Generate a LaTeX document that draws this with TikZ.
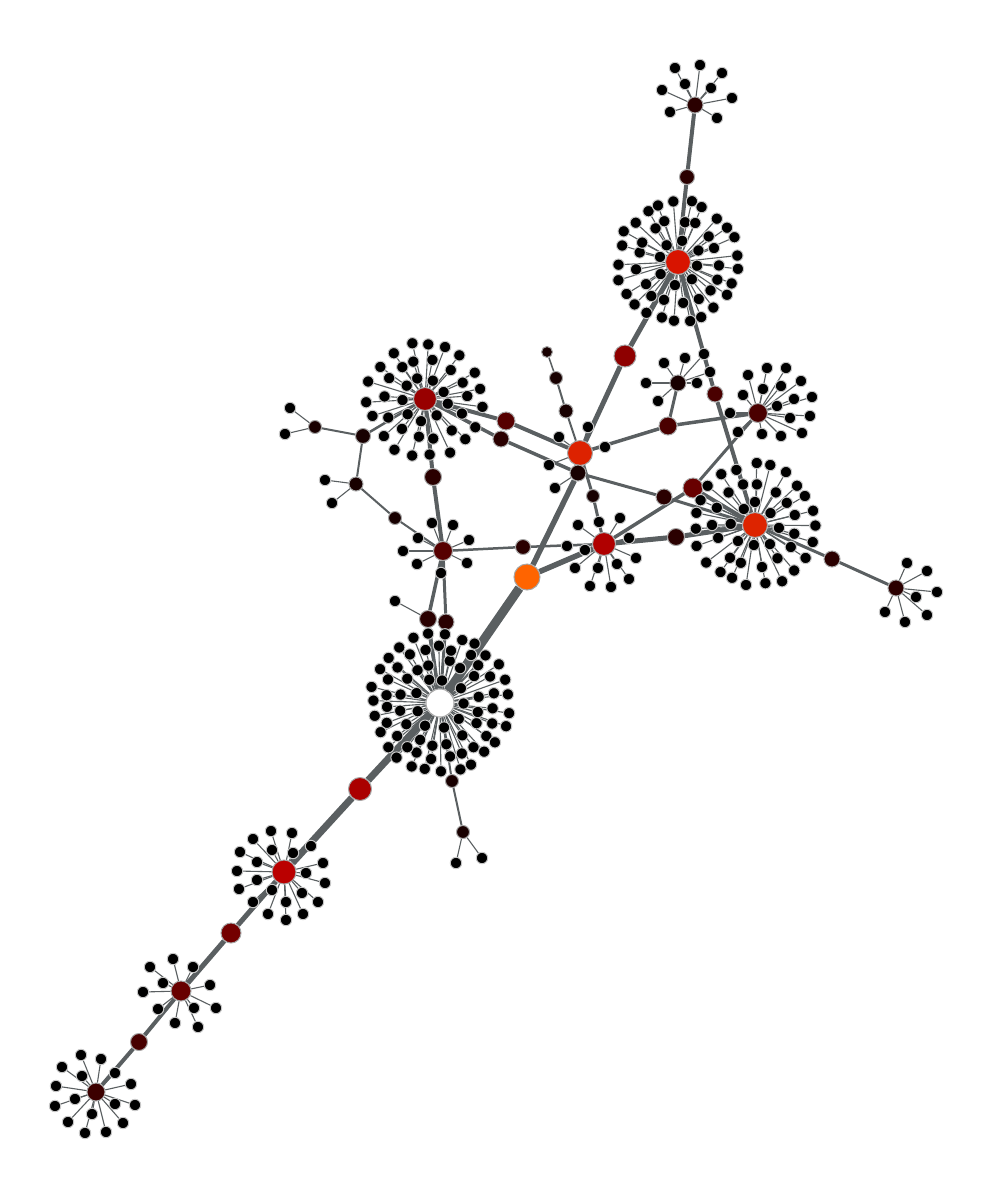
\documentclass[tikz,border=0pt]{standalone}
\usetikzlibrary{calc}
\pgfdeclarelayer{edges}
\pgfsetlayers{edges,main}
\definecolor{edgec}{HTML}{5A5F61}
\definecolor{cO}{HTML}{FF6400}
\definecolor{cC}{HTML}{DD2200}
\definecolor{cT}{HTML}{D81400}
\definecolor{cE}{HTML}{DD2400}
\definecolor{cL}{HTML}{980000}
\definecolor{cR}{HTML}{8E0000}
\definecolor{cM}{HTML}{B00000}
\definecolor{cA}{HTML}{AA0000}
\definecolor{cB}{HTML}{BA0000}
\definecolor{cD}{HTML}{740000}
\definecolor{cF}{HTML}{680000}
\definecolor{cG}{HTML}{480000}
\definecolor{cH}{HTML}{3C0000}
\definecolor{cQ}{HTML}{560000}
\definecolor{dA}{HTML}{4A0000}
\definecolor{dB}{HTML}{2A0000}
\definecolor{dC}{HTML}{180000}
\newcommand{\leafring}[5]{%
  \foreach \i in {1,...,#3}{%
    \pgfmathsetmacro{\ang}{#4+\i*360/#3+rand*#5}%
    \pgfmathsetmacro{\rr}{#2+rand*2.5}%
    \node[leaf] (#1-r#2-\i) at ($(#1)+(\ang:\rr)$) {};
  }%
  \begin{pgfonlayer}{edges}%
  \foreach \i in {1,...,#3}{\draw[leafedge] (#1) -- (#1-r#2-\i);}%
  \end{pgfonlayer}}
\newcommand{\leafset}[2]{%
  \foreach \p [count=\k] in {#2}{%
    \node[leaf] (#1-l\k) at \p {};
    \xdef\leafcount{\k}%
  }%
  \begin{pgfonlayer}{edges}%
  \foreach \i in {1,...,\leafcount}{\draw[leafedge] (#1) -- (#1-l\i);}%
  \end{pgfonlayer}}
\begin{document}
\begin{tikzpicture}[x=0.5pt,y=-0.5pt,
  leaf/.style={circle,fill=black,draw=black!22,line width=0.5pt,minimum size=5.7pt,inner sep=0pt},
  hub/.style 2 args={circle,fill=#1,draw=black!35,line width=0.5pt,minimum size=#2*0.5pt,inner sep=0pt},
  lw/.style={draw=edgec,line width=#1*0.5pt},
  leafedge/.style={draw=edgec,line width=0.55pt}]
\useasboundingbox (0,0) rectangle (993,1200);
\pgfmathsetseed{12}
% main nodes
\node[hub={white}{28}] (W) at (440,703) {};
\node[hub={cO}{26}] (O) at (527,577) {};
\node[hub={cC}{25}] (C) at (580,453) {};
\node[hub={cT}{25}] (T) at (678,262) {};
\node[hub={dB}{16}] (TT) at (695,105) {};
\node[hub={dB}{15}] (TM) at (687,177) {};
\node[hub={cR}{22}] (R1) at (625,356) {};
\node[hub={cL}{23}] (L) at (425,399) {};
\node[hub={cE}{25}] (E) at (755,525) {};
\node[hub={cM}{23}] (M) at (604,544) {};
\node[hub={cQ}{19}] (Q) at (443,551) {};
\node[hub={dA}{19}] (K) at (758,413) {};
\node[hub={dC}{16}] (P) at (678,383) {};
\node[hub={dA}{18}] (Pb) at (668,426) {};
\node[hub={dA}{16}] (Rm) at (715,394) {};
\node[hub={cQ}{18}] (A1) at (506,421) {};
\node[hub={dB}{16}] (A2) at (501,439) {};
\node[hub={dC}{16}] (N577) at (578,473) {};
\node[hub={dB}{16}] (N664) at (664,497) {};
\node[hub={cF}{20}] (N693) at (693,488) {};
\node[hub={dB}{17}] (N676) at (676,537) {};
\node[hub={dC}{13}] (N593) at (593,496) {};
\node[hub={dB}{15}] (N523) at (523,547) {};
\node[hub={dB}{16}] (N832) at (832,559) {};
\node[hub={dB}{16}] (H) at (896,588) {};
\node[hub={dB}{17}] (X433) at (433,477) {};
\node[hub={dB}{17}] (Q1) at (428,619) {};
\node[hub={dB}{16}] (Q2) at (446,622) {};
\node[hub={dC}{13}] (N395) at (395,518) {};
\node[hub={dC}{14}] (N356) at (356,484) {};
\node[hub={dC}{15}] (N363) at (363,436) {};
\node[hub={dC}{13}] (N315) at (315,427) {};
\node[hub={dC}{14}] (C1) at (566,411) {};
\node[hub={dC}{13}] (C2) at (556,378) {};
\node[hub={dC}{11}] (C3) at (547,352) {};
\node[hub={cA}{23}] (N360) at (360,789) {};
\node[hub={cB}{24}] (N284) at (284,872) {};
\node[hub={cD}{20}] (N231) at (231,933) {};
\node[hub={cF}{20}] (N181) at (181,991) {};
\node[hub={cG}{17}] (N139) at (139,1042) {};
\node[hub={cH}{18}] (N96) at (96,1092) {};
\node[hub={dC}{13}] (N452) at (452,781) {};
\node[hub={dC}{13}] (N463) at (463,832) {};
% main edges
\begin{pgfonlayer}{edges}
\draw[lw=9] (W) -- (O);
\draw[lw=5.5] (O) -- (N577);
\draw[lw=4] (N577) -- (C);
\draw[lw=5] (C) -- (R1);
\draw[lw=5] (R1) -- (T);
\draw[lw=4] (T) -- (TM);
\draw[lw=4] (TM) -- (TT);
\draw[lw=4] (T) -- (Rm);
\draw[lw=4] (Rm) -- (E);
\draw[lw=4] (L) -- (A1);
\draw[lw=4] (A1) -- (C);
\draw[lw=3.5] (L) -- (A2);
\draw[lw=3.5] (A2) -- (N577);
\draw[lw=3] (N577) -- (N664);
\draw[lw=3] (N664) -- (E);
\draw[lw=3.5] (M) -- (N693);
\draw[lw=4] (N693) -- (E);
\draw[lw=3] (N693) -- (K);
\draw[lw=5] (M) -- (N676);
\draw[lw=5] (N676) -- (E);
\draw[lw=3] (C) -- (N593);
\draw[lw=3] (N593) -- (M);
\draw[lw=5.5] (O) -- (M);
\draw[lw=3.5] (C) -- (Pb);
\draw[lw=3.5] (Pb) -- (K);
\draw[lw=3] (P) -- (Pb);
\draw[lw=3] (E) -- (N832);
\draw[lw=3] (N832) -- (H);
\draw[lw=4] (L) -- (X433);
\draw[lw=4] (X433) -- (Q);
\draw[lw=3.5] (Q) -- (Q1);
\draw[lw=3] (Q) -- (Q2);
\draw[lw=3.5] (Q1) -- (W);
\draw[lw=3] (Q2) -- (W);
\draw[lw=2.5] (Q) -- (N523);
\draw[lw=2.5] (N523) -- (M);
\draw[lw=2] (Q) -- (N395);
\draw[lw=2] (N395) -- (N356);
\draw[lw=2] (N356) -- (N363);
\draw[lw=2.5] (N363) -- (L);
\draw[lw=2] (N363) -- (N315);
\draw[lw=2] (C) -- (C1);
\draw[lw=2] (C1) -- (C2);
\draw[lw=1.5] (C2) -- (C3);
\draw[lw=7] (W) -- (N360);
\draw[lw=7] (N360) -- (N284);
\draw[lw=5] (N284) -- (N231);
\draw[lw=5] (N231) -- (N181);
\draw[lw=4] (N181) -- (N139);
\draw[lw=4] (N139) -- (N96);
\draw[lw=2] (W) -- (N452);
\draw[lw=2] (N452) -- (N463);
\end{pgfonlayer}
% big clusters
\leafring{T}{21}{8}{10}{6}
\leafring{T}{41}{17}{0}{5}
\leafring{T}{60}{25}{7}{3}
\leafring{W}{25}{9}{0}{6}
\leafring{W}{41}{16}{10}{5}
\leafring{W}{55}{23}{3}{3}
\leafring{W}{68}{27}{8}{2}
\leafring{E}{22}{8}{5}{6}
\leafring{E}{41}{15}{12}{5}
\leafring{E}{60}{23}{3}{3}
\leafring{L}{22}{9}{15}{6}
\leafring{L}{40}{14}{0}{5}
\leafring{L}{57}{19}{8}{3}
% explicit leaves
\leafset{TT}{(675,68),(700,65),(722,73),(685,84),(711,88),(662,90),(732,98),(670,112),(717,118)}
\leafset{H}{(907,563),(927,571),(937,592),(916,597),(927,615),(905,622),(885,612)}
\leafset{P}{(664,363),(685,358),(704,354),(710,372),(697,383),(646,383),(658,401)}
\leafset{K}{(748,375),(767,368),(786,368),(743,395),(763,389),(781,386),(801,381),(794,399),(812,397),(777,406),(790,418),(810,416),(802,433),(781,436),(762,434),(738,432),(730,413)}
\leafset{Q}{(432,523),(453,525),(418,538),(469,540),(403,551),(417,564),(467,563),(441,573)}
\leafset{M}{(578,525),(599,522),(620,518),(567,546),(585,550),(629,538),(636,558),(575,568),(598,568),(617,564),(629,579),(590,586),(611,587)}
\leafset{C}{(588,427),(559,437),(605,447),(549,465)}
\leafset{N577}{(555,488)}
\leafset{N181}{(150,967),(173,959),(193,967),(163,983),(143,992),(210,985),(158,1009),(194,1008),(216,1008),(175,1023),(198,1027)}
\leafset{N96}{(81,1055),(101,1059),(62,1067),(82,1076),(115,1073),(56,1086),(131,1084),(75,1099),(115,1104),(135,1105),(55,1106),(92,1114),(68,1122),(123,1123),(85,1133),(106,1132)}
\leafset{N284}{(271,831),(292,833),(253,839),(272,850),(293,853),(311,846),(240,852),(257,862),(323,863),(237,871),(306,873),(257,880),(325,883),(239,889),(272,890),(302,893),(253,902),(286,902),(318,902),(268,914),(303,914),(286,920)}
\leafset{N315}{(290,408),(285,434)}
\leafset{N356}{(325,480),(332,503)}
\leafset{Q1}{(395,601)}
\leafset{N463}{(456,863),(482,858)}
\end{tikzpicture}
\end{document}
